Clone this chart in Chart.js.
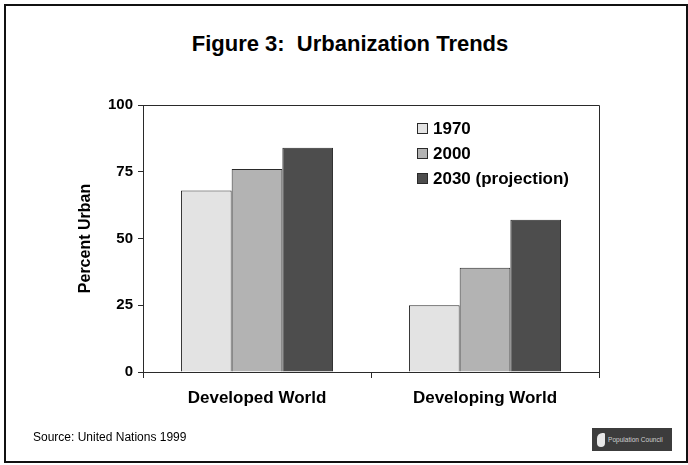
<!DOCTYPE html>
<html>
<head>
<meta charset="utf-8">
<script src="https://cdn.jsdelivr.net/npm/chart.js@4.4.1/dist/chart.umd.min.js"></script>
<style>
  html, body { margin: 0; padding: 0; background: #fff; }
  body { width: 688px; height: 465px; position: relative; overflow: hidden; font-family: "Liberation Sans", Arial, sans-serif; }
  #frame { position: absolute; left: 4px; top: 4px; width: 680px; height: 455px; border: 2px solid #111; box-sizing: content-box; }
  #title { position: absolute; left: 6px; width: 688px; top: 31px; text-align: center; font-weight: bold; font-size: 22px; color: #000; white-space: pre; }
  #source { position: absolute; left: 33px; top: 430px; font-size: 12px; color: #000; }
  #logo { position: absolute; left: 592px; top: 428px; width: 80px; height: 23px; background: #3c3c3c; color: #cfcfcf; font-size: 8px; line-height: 23px; white-space: nowrap; overflow: hidden; }
  #logo .leaf { position: absolute; left: 5px; top: 5px; width: 8px; height: 14px; background: #e8e8e8; border-radius: 8px 2px 6px 6px; }
  #logo .name { position: absolute; left: 16px; top: 0; transform: scaleX(0.82); transform-origin: left center; }
  canvas { position: absolute; left: 0; top: 0; }
</style>
</head>
<body>
<div id="frame"></div>
<div id="title">Figure 3:  Urbanization Trends</div>
<canvas id="urbanChart" width="688" height="465"></canvas>
<div id="source">Source: United Nations 1999</div>
<div id="logo"><span class="leaf"></span><span class="name">Population Council</span></div>
<script>
// Percent of population living in urban areas, by region and year
const regions = ["Developed World", "Developing World"];
const years = ["1970", "2000", "2030 (projection)"];
const urban1970 = [68, 25];
const urban2000 = [76, 39];
const urban2030 = [84, 57];
const yTicks = [0, 25, 50, 75, 100];

const FILLS = ["#e3e3e3", "#b3b3b3", "#4d4d4d"];
const EDGE = "#2a2a2a";
const FONT_FAMILY = "'Liberation Sans', Arial, sans-serif";

const datasets = [urban1970, urban2000, urban2030].map((values, i) => ({
    label: years[i],
    data: values,
    backgroundColor: FILLS[i],
    borderColor: EDGE,
    borderWidth: 1,
    borderSkipped: "bottom",
    categoryPercentage: 0.667,
    barPercentage: 1.0,
}));

// Closes the plot box (top and right edges) and draws the key inside the plot area.
const plotBoxAndKey = {
    id: "plotBoxAndKey",
    afterDatasetsDraw(chart) {
        const { ctx, chartArea } = chart;
        ctx.save();
        ctx.strokeStyle = EDGE;
        ctx.lineWidth = 1;
        ctx.beginPath();
        ctx.moveTo(chartArea.left, chartArea.top + 0.5);
        ctx.lineTo(chartArea.right + 0.5, chartArea.top + 0.5);
        ctx.lineTo(chartArea.right + 0.5, chartArea.bottom);
        ctx.stroke();

        ctx.font = `bold 17px ${FONT_FAMILY}`;
        ctx.textBaseline = "middle";
        ctx.textAlign = "left";
        const keyX = chartArea.left + 274;
        chart.data.datasets.forEach((ds, i) => {
            const rowY = chartArea.top + 23 + i * 25;
            ctx.fillStyle = ds.backgroundColor;
            ctx.fillRect(keyX, rowY - 5, 10, 10);
            ctx.strokeStyle = EDGE;
            ctx.strokeRect(keyX + 0.5, rowY - 4.5, 10, 10);
            ctx.fillStyle = "#000";
            ctx.fillText(ds.label, keyX + 16, rowY + 1);
        });
        ctx.restore();
    },
};

new Chart(document.getElementById("urbanChart"), {
    type: "bar",
    data: { labels: regions, datasets },
    options: {
        responsive: false,
        animation: false,
        layout: { padding: { left: 76, right: 89, top: 105, bottom: 33 } },
        scales: {
            x: {
                offset: true,
                grid: { offset: true, drawOnChartArea: false, drawTicks: true, tickLength: 6, color: EDGE },
                border: { display: true, color: EDGE },
                ticks: { color: "#000", font: { family: FONT_FAMILY, size: 17, weight: "bold" }, padding: 10 },
                afterFit(scale) { scale.height = 60; },
            },
            y: {
                min: 0,
                max: 100,
                afterBuildTicks(scale) { scale.ticks = yTicks.map((v) => ({ value: v })); },
                grid: { drawOnChartArea: false, drawTicks: true, tickLength: 5, color: EDGE },
                border: { display: true, color: EDGE },
                ticks: { color: "#000", font: { family: FONT_FAMILY, size: 15, weight: "bold" }, padding: 5 },
                title: {
                    display: true,
                    text: "Percent Urban",
                    color: "#000",
                    font: { family: FONT_FAMILY, size: 16, weight: "bold" },
                    padding: { top: 0, bottom: 0 },
                },
                afterFit(scale) { scale.width = 67; },
            },
        },
        plugins: {
            legend: { display: false },
            tooltip: { enabled: false },
        },
    },
    plugins: [plotBoxAndKey],
});
</script>
</body>
</html>
